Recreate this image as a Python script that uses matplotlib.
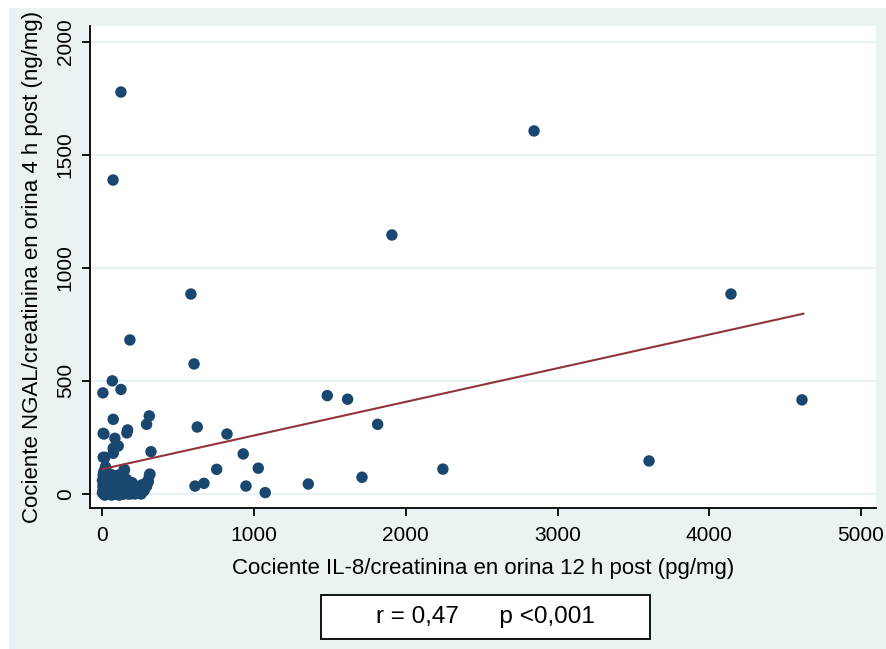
import matplotlib
matplotlib.use("Agg")
import matplotlib.pyplot as plt
from matplotlib.patches import Rectangle

plt.rcParams['font.family'] = ['Liberation Sans', 'DejaVu Sans']

# IL-8/creatinine (x) vs NGAL/creatinine (y)
il8 = [5, 5, 3, 65, 122, 71, 166, 161, 82, 71, 93, 291, 309, 320, 313, 291, 144,
       70, 122, 181, 583, 604, 625, 821, 753, 928, 1027, 610, 669, 946, 1073, 1357,
       1482, 1616, 1814, 1711, 2244, 1908, 2845, 3603, 4143, 4611,
       104, 16, 71, 302, 10,
       0, 5, 10, 15, 20, 25, 30, 35, 40, 45, 50, 55, 60, 65, 70, 75, 80, 85, 90, 95,
       100, 105, 110, 115, 120, 125, 130, 135, 140, 145, 150, 155, 160, 165, 170, 175,
       180, 185, 190, 200, 210, 220, 230, 240, 250, 260, 270, 280, 290, 300, 310,
       0, 5, 10, 20, 3, 8, 12, 18, 28, 33, 42, 48, 58, 62, 72, 78, 88, 92, 98, 108,
       112, 118, 128, 138, 148, 158, 168, 178, 195, 205, 215, 225,
       15, 40, 60, 85, 110, 135, 160, 185, 210, 235, 255, 275]
ngal = [162, 268, 447, 500, 462, 330, 283, 270, 246, 202, 216, 308, 345, 187, 88, 35, 109,
        1388, 1777, 681, 884, 575, 296, 265, 109, 177, 114, 35, 47, 35, 6, 44,
        435, 419, 308, 74, 110, 1145, 1605, 146, 884, 416,
        212, 162, 180, 54, 265,
        5, 20, 45, 10, 70, 30, 0, 55, 15, 90, 40, 5, 25, 65, 10, 35, 80, 20, 50, 0,
        30, 60, 15, 45, 5, 25, 75, 10, 40, 105, 20, 55, 5, 30, 15, 45,
        25, 5, 35, 20, 10, 30, 15, 5, 25, 40, 30, 45, 35, 60, 85,
        60, 85, 100, 120, 35, 0, 75, 50, 95, 20, 5, 60, 85, 45, 30, 0, 70, 10, 45, 0,
        85, 20, 50, 0, 35, 65, 0, 10, 50, 40, 0, 20,
        -5, 0, -5, 5, -5, 0, 15, 0, 5, 10, 0, 15]

# fitted line
fit_x = [0, 4620]
fit_y = [110, 797]

x_ticks = [0, 1000, 2000, 3000, 4000, 5000]
y_ticks = [0, 500, 1000, 1500, 2000]

xlabel = "Cociente IL-8/creatinina en orina 12 h post (pg/mg)"
ylabel = "Cociente NGAL/creatinina en orina 4 h post (ng/mg)"
note = "r = 0,47      p <0,001"

BG = "#eaf2f3"
NAVY = "#1a476f"
MAROON = "#90353b"

W, H = 887, 649
fig = plt.figure(figsize=(W / 100, H / 100), dpi=100)
fig.patch.set_facecolor("white")
bg = Rectangle((9 / W, 0), 1 - 9 / W, (H - 8) / H, transform=fig.transFigure,
               facecolor=BG, edgecolor="none", zorder=-10)
fig.add_artist(bg)

ax = fig.add_axes([90 / W, 141 / H, (876 - 90) / W, (623 - 141) / H])
ax.set_zorder(1)
ax.set_facecolor("white")
ax.set_xlim(-82, 5099)
ax.set_ylim(-62, 2069)

for s in ["top", "right"]:
    ax.spines[s].set_visible(False)
for s in ["left", "bottom"]:
    ax.spines[s].set_color("black")
    ax.spines[s].set_linewidth(1.3)

ax.set_yticks(y_ticks)
ax.set_xticks(x_ticks)
ax.set_yticklabels([str(v) for v in y_ticks], rotation=90, va="center")
ax.set_xticklabels([str(v) for v in x_ticks])
ax.tick_params(axis="both", direction="out", length=6, width=1.3,
               labelsize=15, colors="black")
ax.tick_params(axis="y", pad=5)
ax.tick_params(axis="x", pad=7)

ax.grid(axis="y", color=BG, linewidth=1.6)
ax.set_axisbelow(True)

ax.scatter(il8, ngal, s=68, color=NAVY, edgecolors="none", zorder=3)
ax.plot(fit_x, fit_y, color=MAROON, linewidth=1.5, zorder=4)

ax.set_xlabel(xlabel, fontsize=16, labelpad=9)
ax.set_ylabel(ylabel, fontsize=16, labelpad=9)

box = Rectangle((321 / W, 1 - 639 / H), (650 - 321) / W, (639 - 595) / H,
                transform=fig.transFigure, facecolor="white", edgecolor="black",
                linewidth=1.3, zorder=2)
fig.add_artist(box)
fig.text(485 / W, 1 - 617 / H, note, fontsize=17.5, ha="center", va="center",
         zorder=3)

fig.savefig("out.png", dpi=100, facecolor=fig.get_facecolor())
